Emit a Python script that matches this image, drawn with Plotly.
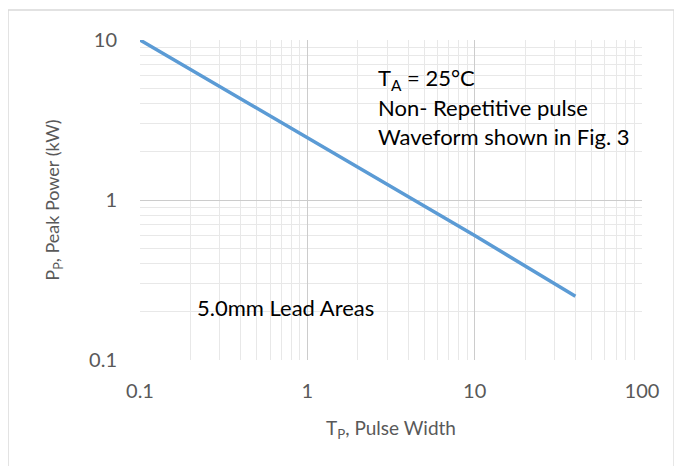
import plotly.graph_objects as go

# Data
pulse_width = [0.1, 1, 10, 40]
peak_power = [10, 2.45, 0.6, 0.25]

x_tickvals = [0.1, 1, 10, 100]
x_ticktext = ["0.1", "1", "10", "100"]
y_tickvals = [0.1, 1, 10]
y_ticktext = ["0.1", "1", "10"]

FONT = "Lato"
GRAY = "#595959"

fig = go.Figure()
fig.add_trace(go.Scatter(
    x=pulse_width, y=peak_power, mode="lines",
    line=dict(color="#5b9bd5", width=3.5), showlegend=False, hoverinfo="skip"))

common_axis = dict(
    type="log", showline=False, zeroline=False,
    gridcolor="#cccccc", gridwidth=1,
    ticks="", tickfont=dict(family=FONT, size=20, color=GRAY),
    minor=dict(showgrid=True, gridcolor="#e8e8e8", gridwidth=1, ticks="",
               dtick="D1"),
)

fig.update_xaxes(**common_axis, range=[-1, 2], tickvals=x_tickvals,
                 ticktext=x_ticktext, ticklabelstandoff=17,
                 title=dict(text="T<sub>P</sub>, Pulse Width",
                            font=dict(family=FONT, size=19, color=GRAY),
                            standoff=20))
fig.update_yaxes(**common_axis, range=[-1, 1], tickvals=y_tickvals,
                 ticktext=y_ticktext, ticklabelstandoff=22,
                 title=dict(text="P<sub>P</sub>, Peak Power (kW)",
                            font=dict(family=FONT, size=18, color=GRAY),
                            standoff=24))

# white boxes behind the text notes
fig.add_shape(type="rect", xref="paper", yref="paper",
              x0=0.434, x1=0.950, y0=0.616, y1=0.969,
              fillcolor="white", line=dict(width=0), layer="between")
fig.add_shape(type="rect", xref="paper", yref="paper",
              x0=0.076, x1=0.452, y0=0.0875, y1=0.24,
              fillcolor="white", line=dict(width=0), layer="between")

note_lines = ["T<sub>A</sub> = 25°C", "Non- Repetitive pulse",
              "Waveform shown in Fig. 3"]
note_y = [0.878, 0.788, 0.698]
for txt, yy in zip(note_lines, note_y):
    fig.add_annotation(text=txt, xref="paper", yref="paper", x=0.47, y=yy,
                       xanchor="left", yanchor="middle", showarrow=False,
                       font=dict(family=FONT, size=22, color="black"))
fig.add_annotation(text="5.0mm Lead Areas", xref="paper", yref="paper",
                   x=0.11, y=0.163, xanchor="left", yanchor="middle",
                   showarrow=False, font=dict(family=FONT, size=22, color="black"))

# outer chart border
fig.add_shape(type="rect", xref="paper", yref="paper",
              x0=-0.263, x1=1.064, y0=-0.36, y1=1.094,
              line=dict(color="#d9d9d9", width=1.5), fillcolor="rgba(0,0,0,0)")

fig.update_layout(
    width=674, height=458,
    margin=dict(l=132, r=40, t=32, b=106),
    paper_bgcolor="white", plot_bgcolor="white",
)

fig.write_html("out.html")
